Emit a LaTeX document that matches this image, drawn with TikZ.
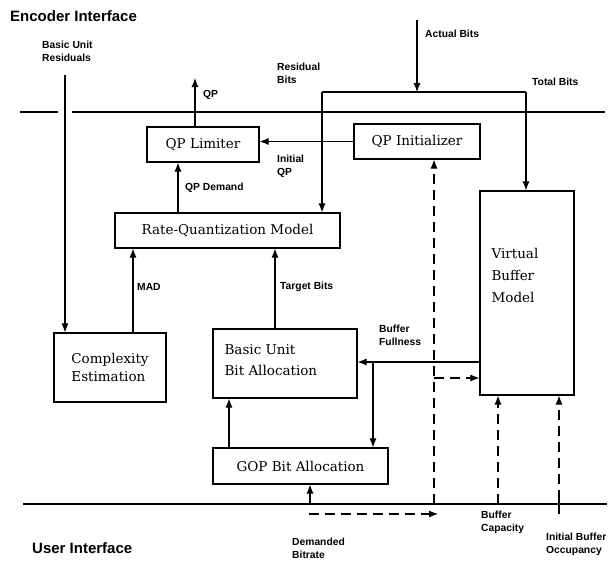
\documentclass[tikz,border=0pt]{standalone}
\usepackage{fontspec}
\setmainfont{DejaVu Serif}
\newfontfamily\lblfont{Liberation Sans}
\usetikzlibrary{arrows.meta}
\tikzset{
  box/.style={draw, line width=1.1pt, inner sep=0pt, font=\fontsize{13.5}{18}\selectfont},
  lbl/.style={font=\lblfont\bfseries\fontsize{10.3}{13}\selectfont, anchor=west, align=left, inner sep=0pt},
  ttl/.style={font=\lblfont\bfseries\fontsize{15}{18}\selectfont, anchor=west, inner sep=0pt},
  wire/.style={line width=1.1pt},
  arr/.style={line width=1.1pt, -{Latex[length=9pt,width=7pt]}},
  darr/.style={line width=1.1pt, dash pattern=on 10pt off 6pt, -{Latex[length=9pt,width=7pt]}},
  dwire/.style={line width=1.1pt, dash pattern=on 10pt off 6pt},
  rule/.style={line width=1.6pt}
}
\begin{document}
\begin{tikzpicture}[x=1pt,y=-1pt]
\useasboundingbox (0,0) rectangle (614,562);
% boxes
\node[box, minimum width=112pt, minimum height=35pt] (qpl) at (203,144.5) {QP Limiter};
\node[box, minimum width=126pt, minimum height=35pt] (qpi) at (417,141.5) {QP Initializer};
\node[box, minimum width=225pt, minimum height=35pt] (rqm) at (227.5,230.5) {Rate-Quantization Model};
\node[box, minimum width=112pt, minimum height=69pt, align=left] (ce) at (110,367.5) {Complexity\\Estimation};
\node[box, minimum width=144pt, minimum height=69pt] (buba) at (285,363.5) {};
\node[box, anchor=west, draw=none, align=left, font=\fontsize{13.5}{21}\selectfont] (bubat) at (224,360) {Basic Unit\\Bit Allocation};
\node[box, minimum width=175pt, minimum height=36pt] (gop) at (300.5,466) {GOP Bit Allocation};
\node[box, minimum width=94pt, minimum height=204pt] (vbm) at (527,293) {};
\node[box, draw=none, anchor=west, align=left, font=\fontsize{13.5}{22}\selectfont] (vbmt) at (491,275) {Virtual\\Buffer\\Model};
% titles
\node[ttl] (enc) at (10,16) {Encoder Interface};
\node[ttl] (usr) at (32,548) {User Interface};
% interface rules
\coordinate (tl1) at (20,112); \coordinate (tl2) at (58,112);
\coordinate (tl3) at (72,112); \coordinate (tl4) at (605,112);
\draw[rule] (tl1) -- (tl2);
\draw[rule] (tl3) -- (tl4);
\coordinate (bl1) at (23,504); \coordinate (bl2) at (607,504);
\draw[rule] (bl1) -- (bl2);
% basic unit residuals
\coordinate (bur) at (65,75);
\node[lbl] (burl) at (42,51) {Basic Unit\\Residuals};
\draw[arr] (bur) -- (bur |- ce.north);
% QP out
\coordinate (qpo) at (195,78);
\draw[arr] (qpl.north -| qpo) -- (qpo);
\node[lbl] (qpol) at (203,95) {QP};
% actual bits / residual / total
\coordinate (ab) at (417,20);
\coordinate (jl) at (322,92);
\coordinate (jr) at (526,92);
\draw[arr] (ab) -- (ab |- jl);
\node[lbl] (abl) at (425,34) {Actual Bits};
\draw[wire] (jl) -- (jr);
\draw[arr] (jl) -- (jl |- rqm.north);
\draw[arr] (jr) -- (jr |- vbm.north);
\node[lbl] (rbl) at (277,73) {Residual\\Bits};
\node[lbl] (tbl) at (532,82) {Total Bits};
% initial QP
\draw[arr] (qpi.west) -- (qpl.east |- qpi.west);
\node[lbl] (iql) at (277,166) {Initial\\QP};
% QP demand
\coordinate (qd) at (178,0);
\draw[arr] (qd |- rqm.north) -- (qd |- qpl.south);
\node[lbl] (qdl) at (185,188) {QP Demand};
% MAD
\coordinate (md) at (133,0);
\draw[arr] (md |- ce.north) -- (md |- rqm.south);
\node[lbl] (mdl) at (137,287) {MAD};
% target bits
\coordinate (tg) at (275,0);
\draw[arr] (tg |- buba.north) -- (tg |- rqm.south);
\node[lbl] (tgl) at (280,287) {Target Bits};
% GOP -> BUBA
\coordinate (gb) at (229,0);
\draw[arr] (gb |- gop.north) -- (gb |- buba.south);
% buffer fullness
\coordinate (bf) at (480,362);
\coordinate (bfj) at (373,362);
\draw[arr] (bf) -- (buba.east |- bf);
\draw[arr] (bfj) -- (bfj |- gop.north);
\node[lbl] (bfl) at (379,335) {Buffer\\Fullness};
% dashed to QP initializer
\coordinate (dv) at (434,504);
\draw[darr] (dv) -- (dv |- qpi.south);
\coordinate (db) at (434,378);
\draw[darr] (db) -- (vbm.west |- db);
% demanded bitrate
\coordinate (dbr) at (310,504);
\draw[arr] (dbr) -- (dbr |- gop.south);
\coordinate (dd1) at (309,514); \coordinate (dd2) at (438,514);
\draw[darr] (dd1) -- (dd2);
\node[lbl] (dbrl) at (292,548) {Demanded\\Bitrate};
% buffer capacity
\coordinate (bc) at (498,504);
\draw[darr] (bc) -- (bc |- vbm.south);
\node[lbl] (bcl) at (481,522) {Buffer\\Capacity};
% initial buffer occupancy
\coordinate (ib) at (559,514);
\coordinate (ib2) at (559,500);
\draw[wire] (ib) -- (ib2);
\draw[darr] (ib2) -- (ib2 |- vbm.south);
\node[lbl] (ibl) at (546,544) {Initial Buffer\\Occupancy};
\end{tikzpicture}
\end{document}
